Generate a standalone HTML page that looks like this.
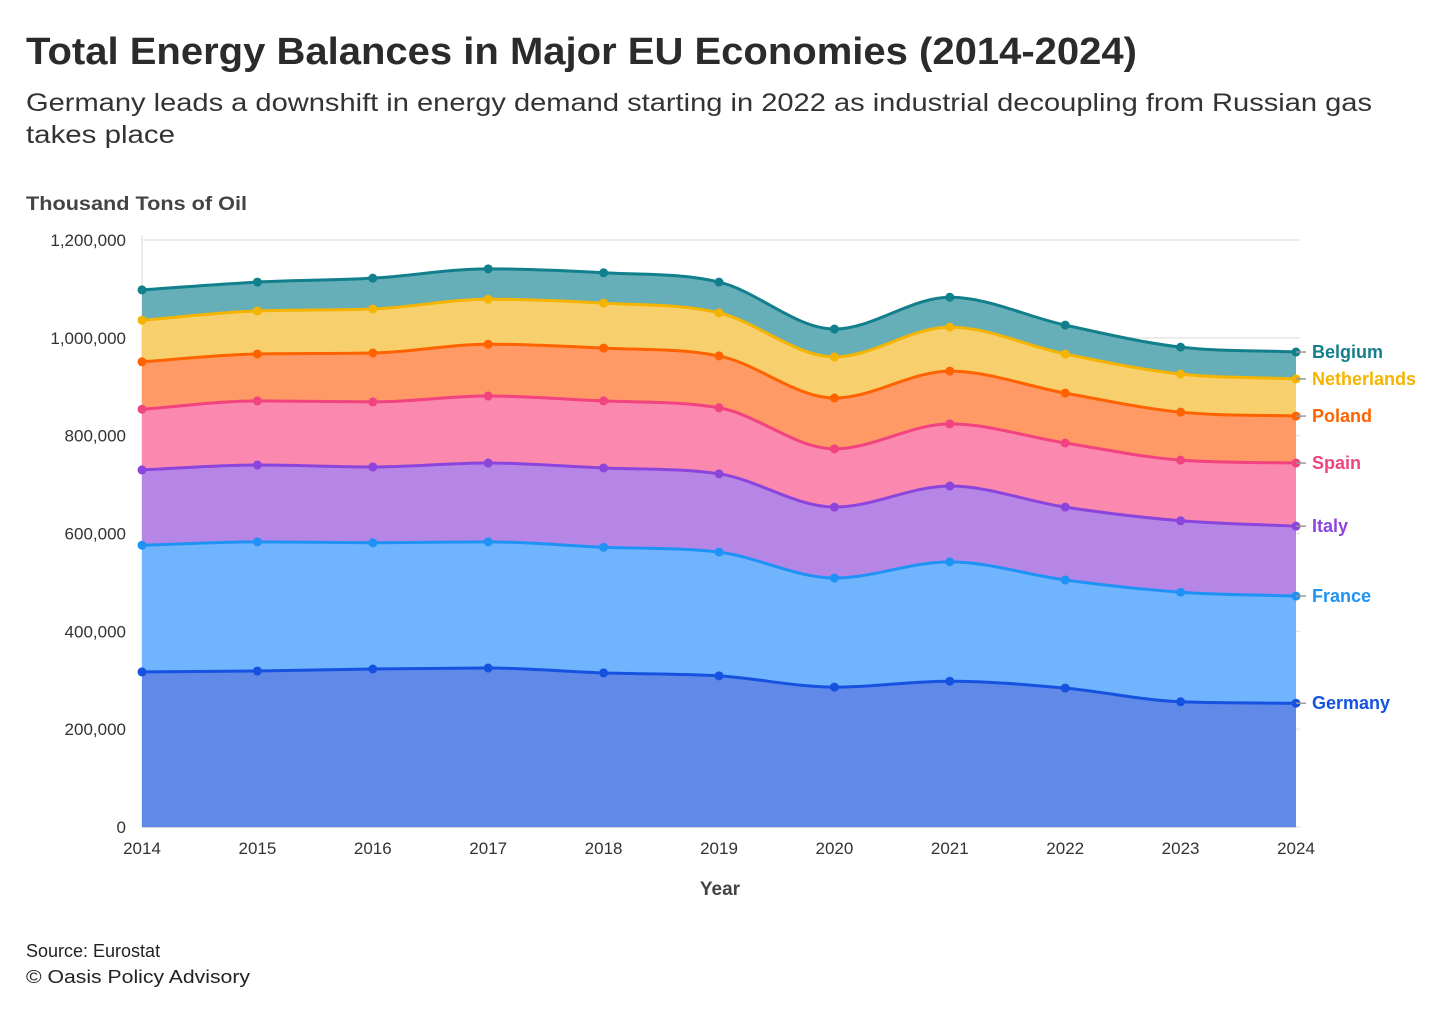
<!DOCTYPE html>
<html><head><meta charset="utf-8"><style>
body{margin:0;background:#fff;font-family:"Liberation Sans",sans-serif;}
svg text{font-family:"Liberation Sans",sans-serif;}
</style></head><body>
<svg id="chart" width="1456" height="1011" xmlns="http://www.w3.org/2000/svg">
<text x="26" y="64" font-size="38" font-weight="bold" fill="#2b2b2b" textLength="1111" lengthAdjust="spacingAndGlyphs">Total Energy Balances in Major EU Economies (2014-2024)</text>
<text x="26" y="111" font-size="25" fill="#333" textLength="1346" lengthAdjust="spacingAndGlyphs">Germany leads a downshift in energy demand starting in 2022 as industrial decoupling from Russian gas</text>
<text x="26" y="143" font-size="25" fill="#333" textLength="149" lengthAdjust="spacingAndGlyphs">takes place</text>
<text x="26" y="210" font-size="19" font-weight="bold" fill="#444" textLength="221" lengthAdjust="spacingAndGlyphs">Thousand Tons of Oil</text>
<text x="720" y="895" font-size="19" font-weight="bold" fill="#444" text-anchor="middle">Year</text>
<text x="26" y="957" font-size="18" fill="#222">Source: Eurostat</text>
<text x="26" y="983" font-size="18" fill="#222" textLength="224" lengthAdjust="spacingAndGlyphs">© Oasis Policy Advisory</text>
<g id="grid"></g><g id="areas"></g><g id="lines"></g><g id="labels"></g>
</svg>
<script>
const years=[2014,2015,2016,2017,2018,2019,2020,2021,2022,2023,2024];
const countries=["Germany","France","Italy","Spain","Poland","Netherlands","Belgium"];
const germany=[317000,319000,323000,325000,315000,309000,286000,298000,284000,256000,253000];
const france=[259000,264000,258000,258000,257000,253000,223000,244000,221000,224000,219000];
const italy=[154000,157000,155000,161000,162000,160000,145000,155000,149000,146000,143000];
const spain=[124000,131000,133000,137000,137000,135000,119000,127000,131000,124000,129000];
const poland=[97000,96000,100000,106000,108000,106000,104000,108000,102000,98000,96000];
const netherlands=[85000,88000,90000,92000,92000,88000,84000,90000,80000,78000,76000];
const belgium=[62000,59000,63000,62000,62000,63000,57000,61000,59000,55000,55000];
const yTicks=[0,200000,400000,600000,800000,1000000,1200000];
const series=[germany,france,italy,spain,poland,netherlands,belgium];
const lineC=["#1652e0","#1f93f5","#8b45dc","#f0437f","#ff6200","#f4b400","#127f8c"];
const fillC=["#6189e8","#6fb4fd","#b686e6","#fb88ae","#ff9a66","#f7cf6d","#66aeb8"];
const NS="http://www.w3.org/2000/svg";
const x=i=>142+(1296-142)*(years[i]-years[0])/(years[years.length-1]-years[0]);
const y=v=>827-v*(587/1200000);
function mk(t,a,p){const e=document.createElementNS(NS,t);for(const k in a)e.setAttribute(k,a[k]);p.appendChild(e);return e;}
const grid=document.getElementById('grid');
yTicks.forEach(t=>{
 const l=mk('line',{x1:142,x2:1300,y1:y(t),y2:y(t),stroke:'#e6e6e6','stroke-width':1.5},grid);
 
 
 const tx=mk('text',{x:126,y:y(t)+6,'font-size':17,fill:'#333','text-anchor':'end'},grid);
 tx.textContent=t.toLocaleString('en-US');
 
 
});
mk('line',{x1:142,x2:142,y1:235,y2:827,stroke:'#e6e6e6','stroke-width':1.5},grid);
mk('line',{x1:142,x2:1296,y1:827,y2:827,stroke:'#bbb','stroke-width':1},grid);
years.forEach((yr,i)=>{
 const tx=mk('text',{x:x(i),y:854,'font-size':17,fill:'#333','text-anchor':'middle'},grid);
 tx.textContent=yr;
 
 
});
function mono(pts){
 const n=pts.length,d=[],m=[];
 for(let i=0;i<n-1;i++)d.push((pts[i+1][1]-pts[i][1])/(pts[i+1][0]-pts[i][0]));
 for(let i=0;i<n;i++){
  if(i==0)m.push(d[0]);else if(i==n-1)m.push(d[n-2]);
  else m.push(d[i-1]*d[i]<=0?0:(d[i-1]+d[i])/2);
 }
 for(let i=0;i<n-1;i++){if(d[i]==0){m[i]=m[i+1]=0;continue;}const a=m[i]/d[i],b=m[i+1]/d[i],s=a*a+b*b;if(s>9){const t=3/Math.sqrt(s);m[i]=t*a*d[i];m[i+1]=t*b*d[i];}}
 let p='';
 for(let i=0;i<n-1;i++){const h=(pts[i+1][0]-pts[i][0])/3;
  p+=`C${pts[i][0]+h},${pts[i][1]+m[i]*h} ${pts[i+1][0]-h},${pts[i+1][1]-m[i+1]*h} ${pts[i+1][0]},${pts[i+1][1]}`;}
 return p;
}
const areas=document.getElementById('areas'),lines=document.getElementById('lines'),labels=document.getElementById('labels');
let base=years.map(()=>0);
series.forEach((s,k)=>{
 const top=s.map((v,i)=>base[i]+v);
 const tp=top.map((v,i)=>[x(i),y(v)]);
 const bp=base.map((v,i)=>[x(i),y(v)]).reverse();
 const a=mk('path',{d:`M${tp[0][0]},${tp[0][1]}`+mono(tp)+`L${bp[0][0]},${bp[0][1]}`+mono(bp)+'Z',fill:fillC[k]},areas);
 
 
 const l=mk('path',{d:`M${tp[0][0]},${tp[0][1]}`+mono(tp),fill:'none',stroke:lineC[k],'stroke-width':3},lines);
 
 
 tp.forEach(p=>{const c=mk('circle',{cx:p[0],cy:p[1],r:4.5,fill:lineC[k]},lines);
  
  });
 const ly=tp[tp.length-1][1];
 mk('line',{x1:1296,x2:1306,y1:ly,y2:ly,stroke:'#999','stroke-width':1.5},labels);
 const t=mk('text',{x:1312,y:ly+6,'font-size':18,'font-weight':'bold',fill:lineC[k]},labels);
 t.textContent=countries[k];
 
 
 base=top;
});
</script>
</body></html>
